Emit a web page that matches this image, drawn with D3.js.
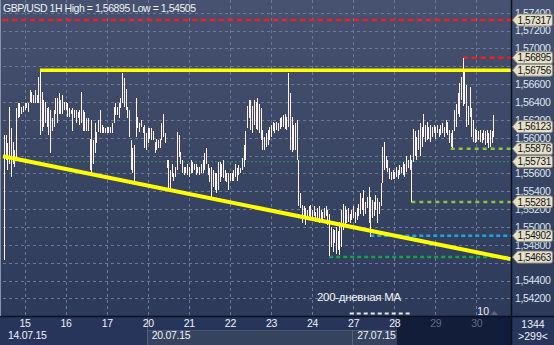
<!DOCTYPE html>
<html>
<head>
<meta charset="utf-8">
<script src="https://cdn.jsdelivr.net/npm/d3@7"></script>
<style>
  html, body { margin: 0; padding: 0; background: #27345a; }
  svg { display: block; font-family: Arial, "Liberation Sans", sans-serif; }
</style>
</head>
<body>
<div id="chart"></div>
<script>
// hourly bars, GBP/USD 14.07.15 - 30.07.15
var high = [
  1.5603,1.5603,1.5594,1.5634,1.5611,1.5595,1.5586,1.5633,1.5639,1.5639,1.5634,1.5636,1.5639,1.5639,1.5639,1.5653,
  1.5651,1.5648,1.5653,1.5648,1.5668,1.56756,1.5651,1.5642,1.5640,1.5633,1.5634,1.5631,1.5622,1.5631,1.5645,1.5645,
  1.5650,1.5642,1.5648,1.5640,1.5640,1.5639,1.5633,1.5631,1.5633,1.5631,1.5631,1.5629,1.5631,1.5651,1.5631,1.5629,
  1.5622,1.5622,1.5599,1.5620,1.5597,1.5617,1.5606,1.5620,1.5631,1.5614,1.5612,1.5611,1.5612,1.5612,1.5612,1.5617,
  1.5634,1.5639,1.5634,1.5639,1.5645,1.5672,1.5667,1.5655,1.5634,1.5631,1.5597,1.5589,1.5592,1.5644,1.5623,1.5616,
  1.5620,1.5612,1.5614,1.5605,1.5611,1.5611,1.5611,1.5608,1.5595,1.5599,1.5597,1.5599,1.5617,1.5627,1.5605,1.5575,
  1.5575,1.5564,1.5571,1.5561,1.5567,1.5606,1.5603,1.5584,1.5575,1.5567,1.5567,1.5571,1.5567,1.5575,1.5573,1.5571,
  1.5571,1.5567,1.5567,1.5571,1.5575,1.5583,1.5589,1.5571,1.5566,1.5567,1.5564,1.5560,1.5560,1.5573,1.5573,1.5571,
  1.5575,1.5564,1.5560,1.5561,1.5560,1.5560,1.5564,1.5571,1.5566,1.5569,1.5566,1.5577,1.5592,1.5608,1.5636,1.5642,
  1.5642,1.5635,1.5642,1.5640,1.5644,1.5638,1.5633,1.5609,1.5601,1.5605,1.5609,1.5612,1.5614,1.5618,1.5616,1.5618,
  1.5616,1.5622,1.5623,1.5625,1.5627,1.5623,1.5672,1.5650,1.5623,1.5614,1.5616,1.5620,1.5575,1.5538,1.5525,1.5523,
  1.5521,1.5519,1.5523,1.5525,1.5519,1.5523,1.5517,1.5521,1.5523,1.5519,1.5517,1.5521,1.5523,1.5519,1.5515,1.5500,
  1.5498,1.5497,1.5500,1.5495,1.5506,1.5519,1.5526,1.5523,1.5519,1.5521,1.5515,1.5519,1.5523,1.5517,1.5521,1.5526,
  1.5538,1.5532,1.5541,1.5528,1.5534,1.5545,1.5534,1.5530,1.5528,1.5536,1.5532,1.5528,1.5549,1.5590,1.5595,1.5579,
  1.5575,1.5566,1.5562,1.5564,1.5562,1.5567,1.5564,1.5569,1.5567,1.5573,1.5571,1.5579,1.5575,1.5581,1.5575,1.5610,
  1.5607,1.5601,1.5609,1.5616,1.5612,1.5627,1.5614,1.5618,1.5612,1.5614,1.5612,1.5614,1.5612,1.5614,1.5610,1.5614,
  1.5616,1.5612,1.5620,1.5618,1.5609,1.5605,1.5609,1.5631,1.5638,1.5650,1.5661,1.5668,1.56895,1.5677,1.5659,1.5635,
  1.5657,1.5633,1.5620,1.5610,1.5609,1.5607,1.5609,1.5605,1.5609,1.5607,1.5609,1.5605,1.5609,1.5607,1.5625
];
var low = [
  1.5463,1.5575,1.5564,1.5571,1.5556,1.5571,1.5567,1.5578,1.5622,1.5623,1.5627,1.5629,1.5631,1.5633,1.5629,1.5640,
  1.5639,1.5639,1.5639,1.5639,1.5639,1.5603,1.5608,1.5612,1.5617,1.5612,1.5603,1.5583,1.5608,1.5612,1.5627,1.5616,
  1.5627,1.5627,1.5627,1.5631,1.5631,1.5623,1.5623,1.5627,1.5608,1.5622,1.5617,1.5622,1.5614,1.5617,1.5608,1.5608,
  1.5608,1.5608,1.5564,1.5560,1.5571,1.5583,1.5594,1.5606,1.5605,1.5605,1.5605,1.5605,1.5605,1.5605,1.5605,1.5605,
  1.5617,1.5625,1.5625,1.5622,1.5633,1.5639,1.5634,1.5631,1.5622,1.5601,1.5564,1.5560,1.5552,1.5601,1.5611,1.5606,
  1.5612,1.5605,1.5588,1.5586,1.5594,1.5599,1.5597,1.5597,1.5583,1.5586,1.5589,1.5589,1.5597,1.5601,1.5594,1.5566,
  1.5541,1.5543,1.5556,1.5552,1.5556,1.5564,1.5578,1.5571,1.5560,1.5558,1.5560,1.5558,1.5556,1.5561,1.5561,1.5564,
  1.5558,1.5560,1.5558,1.5560,1.5561,1.5564,1.5571,1.5558,1.5550,1.5530,1.5545,1.5541,1.5538,1.5541,1.5550,1.5556,
  1.5555,1.5552,1.5550,1.5541,1.5552,1.5552,1.5552,1.5556,1.5552,1.5558,1.5560,1.5564,1.5567,1.5575,1.5611,1.5622,
  1.5609,1.5605,1.5614,1.5610,1.5609,1.5605,1.5597,1.5586,1.5586,1.5590,1.5592,1.5597,1.5601,1.5607,1.5605,1.5609,
  1.5607,1.5610,1.5612,1.5612,1.5610,1.5609,1.5612,1.5586,1.5584,1.5586,1.5586,1.5575,1.5523,1.5521,1.5504,1.5510,
  1.5502,1.5508,1.5512,1.5510,1.5508,1.5512,1.5506,1.5510,1.5504,1.5508,1.5504,1.5510,1.5512,1.5502,1.5467,1.5478,
  1.5472,1.5482,1.5470,1.5474,1.5469,1.5478,1.5497,1.5500,1.5504,1.5506,1.5504,1.5508,1.5510,1.5504,1.5508,1.5512,
  1.5515,1.5519,1.5512,1.5515,1.5521,1.5504,1.5489,1.5510,1.5512,1.5519,1.5504,1.5515,1.5523,1.5549,1.5564,1.5566,
  1.5562,1.5554,1.5553,1.5554,1.5554,1.5556,1.5554,1.5558,1.5560,1.5558,1.5556,1.5562,1.5566,1.5564,1.5528,1.5573,
  1.5579,1.5575,1.5586,1.5579,1.5590,1.5601,1.5595,1.5597,1.5599,1.5595,1.5601,1.5605,1.5599,1.5605,1.5601,1.5603,
  1.5605,1.5601,1.5605,1.5603,1.5594,1.5590,1.5588,1.5607,1.5612,1.5627,1.5623,1.5642,1.5635,1.5638,1.5612,1.5614,
  1.5623,1.5601,1.5595,1.5594,1.5595,1.5597,1.5595,1.5594,1.5597,1.5592,1.5594,1.5588,1.5590,1.5594,1.5601
];

var priceTicks = [1.542,1.544,1.546,1.548,1.550,1.552,1.554,1.556,1.558,1.560,1.562,1.564,1.566,1.568,1.570,1.572,1.574];
// labels that the price tags do not hide
var priceLabels = [1.542,1.544,1.548,1.550,1.552,1.554,1.556,1.560,1.562,1.564,1.566,1.570,1.572,1.574];
var dayIndex = [12,36,60,84,108,132,156,180,204,228,252,276];
var dayLabels = ["15","16","17","20","21","22","23","24","27","28","29","30"];
var weekIndex = [0,84,204];
var weekLabels = ["14.07.15","20.07.15","27.07.15"];

// horizontal levels: price and the bar where each one starts
var levelValues = [1.57317, 1.56895, 1.55876, 1.55731, 1.55281, 1.54902, 1.54663];
var levelFrom = [0, 268, 261, 0, 238, 214, 190];
var resistanceValue = 1.56756, resistanceFrom = 21;
var supportIdx = [0, 296], supportVal = [1.5579, 1.5464];
var lastPrice = 1.56123;
var maLabel = "200-дневная MA", maFrom = 202, maTo = 237;
var titleText = "GBP/USD 1H High = 1,56895 Low = 1,54505";

const W = 554, H = 345;
const PLOT = { LEFT: 3, RIGHT: 511, TOP: 0, BOTTOM: 316 };

var levelColor = ["#ff1a1a", "#ff1a1a", "#8cc63e", "#1f9e5c", "#8cc63e", "#1ba7e6", "#16a04a"];
var levelWidth = [2.5, 2.5, 2.5, 1, 2.5, 2.5, 2.5];
var levelDash = ["5,4", "5,4", "4,4", "2,2", "4,4", "4,3", "4,3"];

var fmt = function (v) { return d3.format(".5f")(v).replace(".", ","); };

var svg = d3.select("#chart").append("svg")
  .attr("width", W).attr("height", H);

var defs = svg.append("defs");
var grad = defs.append("linearGradient").attr("id", "bg").attr("x1", 0).attr("y1", 0).attr("x2", 0).attr("y2", 1);
grad.append("stop").attr("offset", "0%").attr("stop-color", "#46526f");
grad.append("stop").attr("offset", "100%").attr("stop-color", "#2d3a59");

var x = d3.scaleLinear().domain([0, 296]).range([4, 510.6]);
var y = d3.scaleLinear().domain([1.540, 1.576]).range([316.3, -5.2]);

// backgrounds
svg.append("rect").attr("x", 0).attr("y", 0).attr("width", W).attr("height", PLOT.BOTTOM)
  .attr("fill", "url(#bg)");
svg.append("rect").attr("x", 0).attr("y", PLOT.BOTTOM).attr("width", W).attr("height", H - PLOT.BOTTOM)
  .attr("fill", "#28355a");
svg.append("rect").attr("x", 147).attr("y", 330).attr("width", 250).attr("height", 15)
  .attr("fill", "#36435f");
svg.append("rect").attr("x", 397).attr("y", 317).attr("width", 114).attr("height", 28)
  .attr("fill", "#121d3a");
svg.append("line").attr("x1", 147.5).attr("x2", 147.5).attr("y1", 317).attr("y2", H)
  .attr("stroke", "#56627c");
svg.append("line").attr("x1", 147).attr("x2", 397).attr("y1", 330.5).attr("y2", 330.5)
  .attr("stroke", "#4a5672");
svg.append("line").attr("x1", 352.5).attr("x2", 352.5).attr("y1", 330).attr("y2", H)
  .attr("stroke", "#56627c");

var plot = svg.append("g");

// grid
plot.selectAll("line.hgrid").data(priceTicks).join("line")
  .attr("class", "hgrid")
  .attr("x1", PLOT.LEFT).attr("x2", PLOT.RIGHT)
  .attr("y1", function (d) { return Math.round(y(d)) + 0.5; })
  .attr("y2", function (d) { return Math.round(y(d)) + 0.5; })
  .attr("stroke", "#6a7899").attr("stroke-dasharray", "3,3");
plot.selectAll("line.vgrid").data(dayIndex).join("line")
  .attr("class", "vgrid")
  .attr("x1", function (d) { return Math.round(x(d)) + 0.5; })
  .attr("x2", function (d) { return Math.round(x(d)) + 0.5; })
  .attr("y1", PLOT.TOP).attr("y2", PLOT.BOTTOM)
  .attr("stroke", "#6a7899").attr("stroke-dasharray", "3,3");

// dashed levels
plot.selectAll("line.level").data(levelValues).join("line")
  .attr("class", "level")
  .attr("x1", function (d, i) { return levelFrom[i] === 0 ? PLOT.LEFT : x(levelFrom[i]); })
  .attr("x2", PLOT.RIGHT)
  .attr("y1", function (d) { return y(d); })
  .attr("y2", function (d) { return y(d); })
  .attr("stroke", function (d, i) { return levelColor[i]; })
  .attr("stroke-width", function (d, i) { return levelWidth[i]; })
  .attr("stroke-dasharray", function (d, i) { return levelDash[i]; });

// bars
plot.selectAll("line.bar").data(high).join("line")
  .attr("class", "bar")
  .attr("x1", function (d, i) { return Math.round(x(i)) + 0.5; })
  .attr("x2", function (d, i) { return Math.round(x(i)) + 0.5; })
  .attr("y1", function (d) { return Math.round(y(d)); })
  .attr("y2", function (d, i) { return Math.round(y(low[i])); })
  .attr("stroke", "#fff4f0").attr("stroke-width", 1)
  .attr("shape-rendering", "crispEdges");

// yellow trend lines
plot.append("line")
  .attr("x1", x(resistanceFrom)).attr("x2", PLOT.RIGHT)
  .attr("y1", y(resistanceValue)).attr("y2", y(resistanceValue))
  .attr("stroke", "#ffff00").attr("stroke-width", 3.5);
plot.append("line")
  .attr("x1", PLOT.LEFT).attr("x2", x(supportIdx[1]))
  .attr("y1", y(supportVal[0]) - (x(supportIdx[0]) - PLOT.LEFT) * (y(supportVal[1]) - y(supportVal[0])) / (x(supportIdx[1]) - x(supportIdx[0])))
  .attr("y2", y(supportVal[1]))
  .attr("stroke", "#ffff00").attr("stroke-width", 4);

// MA annotation
plot.append("text").attr("x", 317).attr("y", 301)
  .attr("fill", "#f2f4f8").attr("font-size", "11.5px").attr("letter-spacing", "-0.3px")
  .text(maLabel);
plot.append("line")
  .attr("x1", x(maFrom)).attr("x2", x(maTo)).attr("y1", 313.5).attr("y2", 313.5)
  .attr("stroke", "#e6e8ee").attr("stroke-width", 2).attr("stroke-dasharray", "4,3");
plot.append("text").attr("x", x(dayIndex[11]) + 1).attr("y", 315)
  .attr("fill", "#e6ecf8").attr("font-size", "10.5px").text("10");
plot.append("path")
  .attr("d", "M" + (x(dayIndex[11]) + 14) + ",315 l4,-4 l4,4 z")
  .attr("fill", "#5a6682");

// title
svg.append("text").attr("x", 3).attr("y", 12)
  .attr("fill", "#eef2f8").attr("font-size", "10.5px").attr("letter-spacing", "-0.45px")
  .text(titleText);

// frame lines
svg.append("line").attr("x1", 0).attr("x2", W).attr("y1", PLOT.BOTTOM + 0.5).attr("y2", PLOT.BOTTOM + 0.5)
  .attr("stroke", "#0b1120").attr("stroke-width", 1.5);
svg.append("line").attr("x1", PLOT.RIGHT + 0.5).attr("x2", PLOT.RIGHT + 0.5).attr("y1", 0).attr("y2", H)
  .attr("stroke", "#0b1120").attr("stroke-width", 1.5);
svg.append("line").attr("x1", 0.5).attr("x2", 0.5).attr("y1", 0).attr("y2", PLOT.BOTTOM)
  .attr("stroke", "#8793aa");

// price axis
var yAxis = svg.append("g").attr("transform", "translate(" + (PLOT.RIGHT + 1) + ",0)")
  .call(d3.axisRight(y).tickValues(priceLabels).tickSize(0).tickPadding(3).tickFormat(fmt));
yAxis.select(".domain").remove();
yAxis.selectAll("text").attr("fill", "#dde5f2").attr("font-size", "10.5px")
  .attr("letter-spacing", "-0.35px").attr("font-family", "Arial, 'Liberation Sans', sans-serif");

// price tags
var tagValues = levelValues.slice(0, 2).concat([resistanceValue, lastPrice]).concat(levelValues.slice(2));
var tags = svg.append("g").selectAll("g").data(tagValues).join("g")
  .attr("transform", function (d) { return "translate(" + (PLOT.RIGHT + 1.5) + "," + y(d) + ")"; });
tags.append("path")
  .attr("d", "M0,0 L5,-6 L38,-6 Q40,-6 40,-4 L40,4 Q40,6 38,6 L5,6 Z")
  .attr("fill", "#e4e0ca").attr("stroke", "#8a8a84");
tags.append("text").attr("x", 5).attr("y", 3.6)
  .attr("fill", "#141414").attr("font-size", "10px").attr("letter-spacing", "-0.4px")
  .text(fmt);

// day axis
var xAxis = svg.append("g").attr("transform", "translate(0," + (PLOT.BOTTOM + 1) + ")")
  .call(d3.axisBottom(x).tickValues(dayIndex).tickSize(0).tickPadding(3)
    .tickFormat(function (d, i) { return dayLabels[i]; }));
xAxis.select(".domain").remove();
xAxis.selectAll("text")
  .attr("fill", function (d) { return x(d) > 397 ? "#5f6b88" : "#eef2f8"; })
  .attr("font-size", "10.5px").attr("letter-spacing", "-0.3px")
  .attr("font-family", "Arial, 'Liberation Sans', sans-serif");

svg.selectAll("text.week").data(weekLabels).join("text")
  .attr("class", "week")
  .attr("x", function (d, i) { return x(weekIndex[i]) + 4; })
  .attr("y", 339)
  .attr("fill", "#eef2f8").attr("font-size", "10.5px").attr("letter-spacing", "-0.3px")
  .text(function (d) { return d; });

// corner counters
svg.append("text").attr("x", 533).attr("y", 328).attr("text-anchor", "middle")
  .attr("fill", "#eef2f8").attr("font-size", "10.5px").text("1344");
svg.append("text").attr("x", 533).attr("y", 340).attr("text-anchor", "middle")
  .attr("fill", "#eef2f8").attr("font-size", "10.5px").text(">299<");
</script>
</body>
</html>
